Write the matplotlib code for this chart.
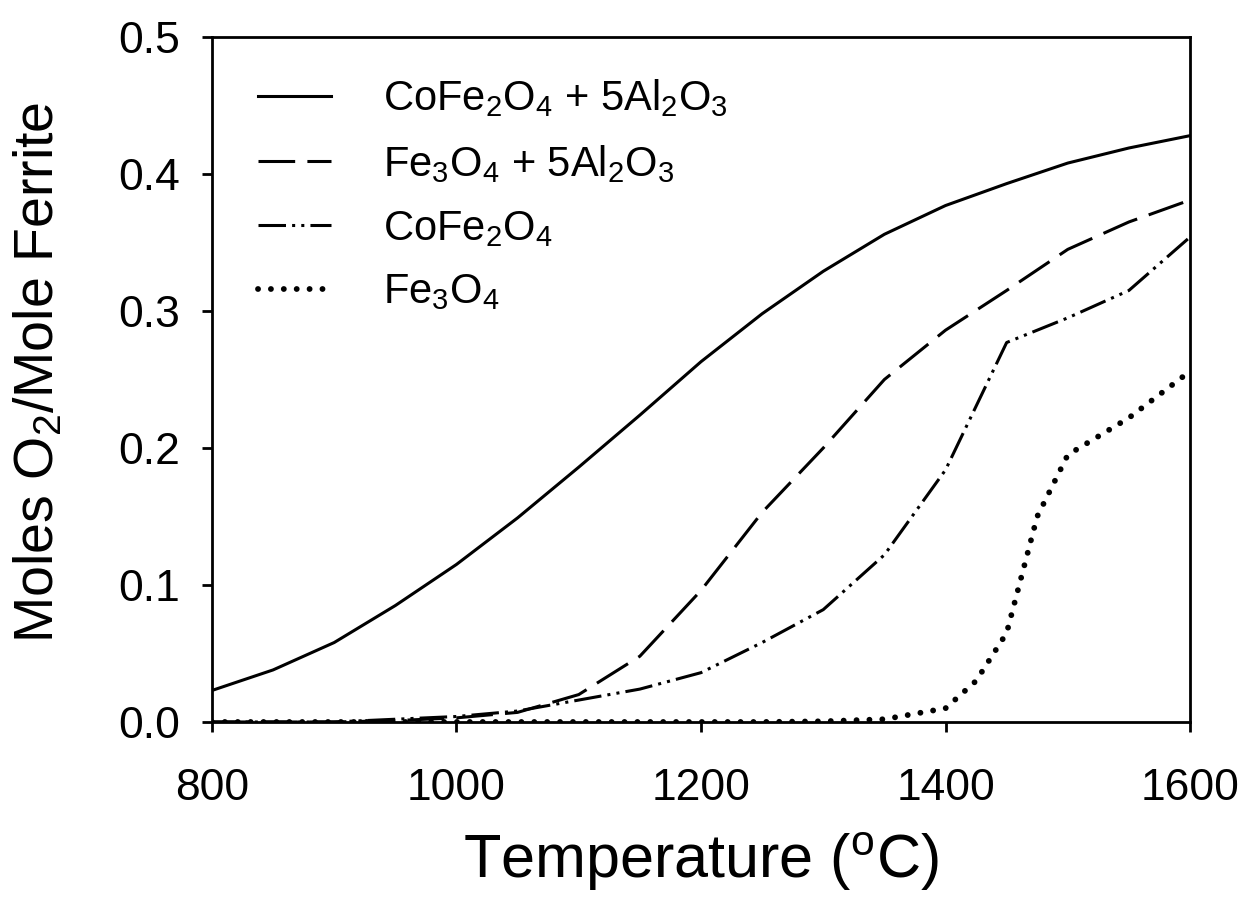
import matplotlib
matplotlib.use("Agg")
import matplotlib.pyplot as plt

# Temperatures (deg C) and O2 released per mole of ferrite
temp = [800, 850, 900, 950, 1000, 1050, 1100, 1150, 1200, 1250,
        1300, 1350, 1400, 1450, 1500, 1550, 1600]

cofe_al = [0.023, 0.038, 0.058, 0.085, 0.115, 0.149, 0.186, 0.224, 0.263,
           0.298, 0.329, 0.356, 0.377, 0.393, 0.408, 0.419, 0.428]
fe3o4_al = [0.0, 0.0, 0.0, 0.001, 0.003, 0.007, 0.020, 0.048, 0.096,
            0.153, 0.200, 0.250, 0.286, 0.315, 0.345, 0.365, 0.381]
cofe = [0.0, 0.0, 0.0, 0.002, 0.004, 0.008, 0.016, 0.024, 0.036,
        0.058, 0.082, 0.122, 0.184, 0.277, 0.295, 0.315, 0.354]

temp_fe = [800, 850, 900, 950, 1000, 1050, 1100, 1150, 1200, 1250,
           1300, 1350, 1400, 1425, 1450, 1475, 1500, 1550, 1600]
fe3o4 = [0.0, 0.0, 0.0, 0.0, 0.0, 0.0, 0.0, 0.0, 0.0, 0.0,
         0.0005, 0.002, 0.010, 0.030, 0.065, 0.150, 0.195, 0.222, 0.256]

labels = [r"CoFe$_2$O$_4$ + 5Al$_2$O$_3$",
          r"Fe$_3$O$_4$ + 5Al$_2$O$_3$",
          r"CoFe$_2$O$_4$",
          r"Fe$_3$O$_4$"]

face = "Liberation Sans"
plt.rcParams["font.family"] = [face, "DejaVu Sans"]
plt.rcParams["mathtext.fontset"] = "custom"
plt.rcParams["mathtext.rm"] = face
plt.rcParams["mathtext.it"] = face
plt.rcParams["mathtext.bf"] = face

fig = plt.figure(figsize=(12.49, 9.01), dpi=100)
ax = fig.add_axes([0.1697, 0.1987, 0.7831, 0.7602])

lw = 2.2
ax.plot(temp, cofe_al, color="black", lw=lw, linestyle="-", label=labels[0])
ax.plot(temp, fe3o4_al, color="black", lw=lw, linestyle=(0, (12, 4)),
        label=labels[1])
ax.plot(temp, cofe, color="black", lw=lw,
        linestyle=(0, (9, 2, 1, 2, 1, 2)), label=labels[2])
ax.plot(temp_fe, fe3o4, color="black", lw=4.2, linestyle=(0, (0.01, 2.2)),
        dash_capstyle="round", label=labels[3])

ax.set_xlim(800, 1600)
ax.set_ylim(0, 0.5)
ax.set_xticks([800, 1000, 1200, 1400, 1600])
ax.set_yticks([0.0, 0.1, 0.2, 0.3, 0.4, 0.5])
ax.set_yticklabels(["0.0", "0.1", "0.2", "0.3", "0.4", "0.5"])

for sp in ax.spines.values():
    sp.set_linewidth(2.0)
ax.tick_params(axis="both", direction="out", length=7, width=2.0,
               labelsize=32, top=False, right=False)
ax.tick_params(axis="x", pad=26)
ax.tick_params(axis="y", pad=16)

ax.set_xlabel(r"Temperature ($^\mathrm{o}$C)", fontsize=44)
ax.xaxis.set_label_coords(0.5, -0.158)
ax.set_ylabel(r"Moles O$_2$/Mole Ferrite", fontsize=40)
ax.yaxis.set_label_coords(-0.150, 0.51)

leg = ax.legend(loc="upper left", bbox_to_anchor=(0.047, 0.941), frameon=False,
                fontsize=30, handlelength=1.75, handletextpad=1.25,
                labelspacing=0.57, borderaxespad=0.0, borderpad=0.0)

fig.savefig("out.png", dpi=100, facecolor="white")
